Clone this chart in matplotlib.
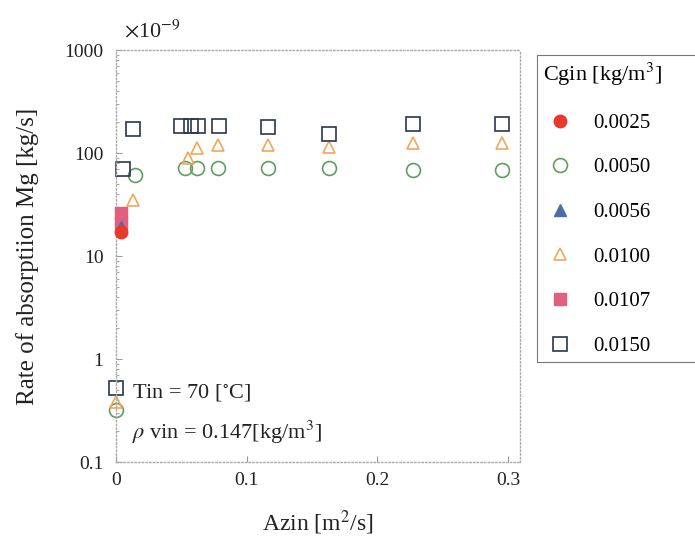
import matplotlib as mpl
mpl.use('agg')
import matplotlib.pyplot as plt
from matplotlib.ticker import FixedLocator, FixedFormatter, NullFormatter

# Values are in units of 1e-9 kg/s (see the x10^-9 note)
azin_0025 = [0.004]
mg_0025 = [17]

azin_0050 = [0.0, 0.0145, 0.053, 0.062, 0.078, 0.116, 0.163, 0.227, 0.295]
mg_0050 = [0.32, 61, 71, 71, 71, 71, 71, 68, 68]

azin_0056 = [0.004]
mg_0056 = [19]

azin_0100 = [0.0, 0.013, 0.055, 0.062, 0.078, 0.116, 0.163, 0.227, 0.295]
mg_0100 = [0.38, 35, 89, 112, 120, 120, 115, 125, 125]

azin_0107 = [0.004, 0.004]
mg_0107 = [21, 26]

azin_0150 = [0.0, 0.005, 0.013, 0.050, 0.057, 0.063, 0.079, 0.116, 0.163, 0.227, 0.295]
mg_0150 = [0.52, 70, 170, 185, 185, 185, 185, 178, 152, 192, 190]

labels = ['0.0025', '0.0050', '0.0056', '0.0100', '0.0107', '0.0150']
yticks = [0.1, 1, 10, 100, 1000]
ytick_labels = ['0.1', '1', '10', '100', '1000']
xticks = [0, 0.1, 0.2, 0.3]
xtick_labels = ['0', '0.1', '0.2', '0.3']

plt.rcParams['font.family'] = ['Liberation Serif', 'DejaVu Serif']
plt.rcParams['mathtext.fontset'] = 'stix'

fig = plt.figure(figsize=(6.95, 5.38), dpi=100)
ax = fig.add_axes([0.167, 0.141, 0.581, 0.766])

ms = 9
ax.plot(azin_0025, mg_0025, 'o', color='#e8392a', ms=ms, label=labels[0], clip_on=False, zorder=5)
ax.plot(azin_0050, mg_0050, 'o', mfc='none', mec='#5f9e5f', mew=1.2, ms=ms+1, label=labels[1], clip_on=False)
ax.plot(azin_0056, mg_0056, '^', color='#4a6fa5', ms=ms, label=labels[2], clip_on=False, zorder=4)
ax.plot(azin_0100, mg_0100, '^', mfc='none', mec='#f2a65a', mew=1.2, ms=ms, label=labels[3], clip_on=False)
ax.plot(azin_0107, mg_0107, 's', color='#e0607e', ms=ms, label=labels[4], clip_on=False, zorder=3)
ax.plot(azin_0150, mg_0150, 's', mfc='none', mec='#2b3550', mew=1.2, ms=ms+1, label=labels[5], clip_on=False)

ax.set_yscale('log')
ax.set_ylim(0.1, 1000)
ax.set_xlim(0, 0.309)
ax.yaxis.set_major_locator(FixedLocator(yticks))
ax.yaxis.set_major_formatter(FixedFormatter(ytick_labels))
ax.yaxis.set_minor_formatter(NullFormatter())
ax.set_xticks(xticks)
ax.set_xticklabels(xtick_labels)
ax.tick_params(which='both', direction='in', colors='#999999', labelcolor='#222222', labelsize=14)
ax.tick_params(which='major', length=4)
ax.tick_params(which='minor', length=2)
ax.tick_params(axis='y', pad=9)
ax.tick_params(axis='x', pad=7)
for s in ax.spines.values():
  s.set_color('#aaaaaa')
  s.set_linestyle(':')
  s.set_linewidth(1.0)

ax.set_xlabel('Azin [m$^2$/s]', fontsize=17, color='#222222', labelpad=14)
ax.set_ylabel('Rate of absorptiion Mg [kg/s]', fontsize=18, color='#222222', labelpad=18)

fig.text(0.178, 0.93, r'$\times$10$^{-9}$', fontsize=16, color='#222222')

ax.text(0.04, 0.167, 'Tin = 70 [$^{\\circ}$C]', transform=ax.transAxes, fontsize=16,
        color='#222222', va='center')
ax.text(0.04, 0.073, r'$\rho$ vin = 0.147[kg/m$^3$]', transform=ax.transAxes, fontsize=16,
        color='#222222', va='center')

leg = fig.legend(loc='upper left', bbox_to_anchor=(0.773, 0.35, 0.26, 0.548), mode='expand',
                 title='Cgin [kg/m$^3$]', fontsize=15, title_fontsize=16, labelspacing=1.2,
                 handletextpad=0.8, handlelength=1.6, borderpad=0.3, borderaxespad=0.0,
                 fancybox=False, edgecolor='#555555')
leg.get_frame().set_linewidth(0.8)
leg._legend_box.align = 'left'

fig.savefig('out.png', dpi=100)
